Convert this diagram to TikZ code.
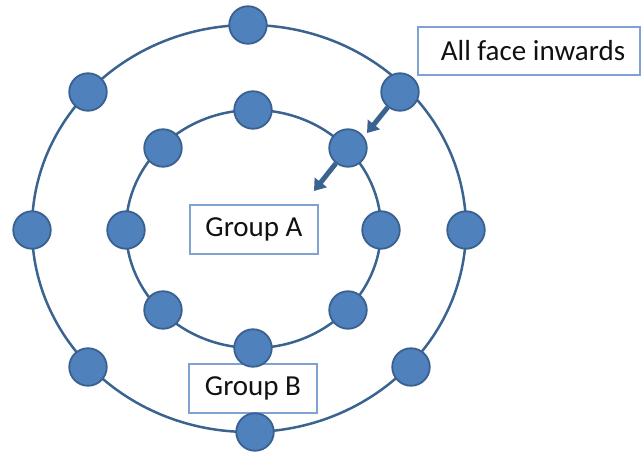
\documentclass[tikz,border=0pt]{standalone}
\usepackage{fontspec}
\setmainfont{Carlito}
\usetikzlibrary{arrows.meta}
\definecolor{nodefill}{HTML}{4F81BD}
\definecolor{nodeline}{HTML}{3A6090}
\definecolor{ringline}{HTML}{3B6390}
\definecolor{boxline}{HTML}{7FA2D2}
\definecolor{txt}{HTML}{111111}
\tikzset{
  person/.style={circle, draw=nodeline, fill=nodefill, line width=1.8pt, minimum size=37.5pt, inner sep=0pt},
  ring/.style={draw=ringline, line width=2.5pt},
  label box/.style={draw=boxline, line width=1.2pt, fill=white, inner sep=0pt, text=txt,
    font=\fontsize{29pt}{34pt}\selectfont, minimum height=48pt},
  facearrow/.style={draw=ringline, line width=5pt, -{Triangle[width=15pt,length=11pt]}}
}
\begin{document}
\begin{tikzpicture}[x=1pt,y=-1pt]
\useasboundingbox (0,0) rectangle (641,455);
% rings
\draw[ring] (249,228.5) ellipse [x radius=217pt, y radius=203.5pt];
\draw[ring] (253.5,229) ellipse [x radius=127.5pt, y radius=119pt];
% boxes
\node[label box, minimum width=222pt] (faces) at (529,51) {\hspace*{8pt}All face inwards};
\node[label box, minimum width=128pt, minimum height=49pt] (groupA) at (254,229.5) {Group A};
\node[label box, minimum width=128pt, minimum height=49pt] (groupB) at (253,388.5) {Group B};
% outer ring
\node[person] (o1) at (248,25) {};
\node[person] (o2) at (400,92) {};
\node[person] (o3) at (466,230) {};
\node[person] (o4) at (411,367) {};
\node[person] (o5) at (255,432) {};
\node[person] (o6) at (88,367) {};
\node[person] (o7) at (32,230) {};
\node[person] (o8) at (88,92) {};
% inner ring
\node[person] (i1) at (253,110) {};
\node[person] (i2) at (348,148) {};
\node[person] (i3) at (381,230) {};
\node[person] (i4) at (348,310) {};
\node[person] (i5) at (253,348) {};
\node[person] (i6) at (163,310) {};
\node[person] (i7) at (126,230) {};
\node[person] (i8) at (163,148) {};
% arrows
\coordinate (t1) at (367,133);
\coordinate (t2) at (314,191);
\draw[facearrow] (o2) -- (t1);
\draw[facearrow] (i2) -- (t2);
\end{tikzpicture}
\end{document}
